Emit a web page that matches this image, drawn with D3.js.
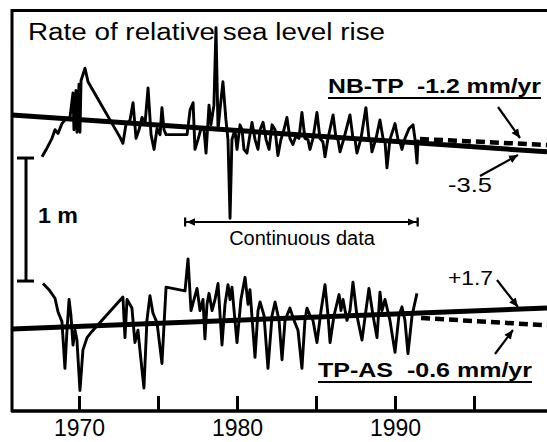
<!DOCTYPE html>
<html><head><meta charset="utf-8">
<script src="https://cdn.jsdelivr.net/npm/d3@7"></script>
<style>
body{margin:0;background:#fff}
svg{display:block}
text{font-family:"Liberation Sans",Arial,Helvetica,sans-serif;fill:#000}
</style>
</head><body>
<svg id="c" width="547" height="442"></svg>
<script>
// ---- data (years, metres) ----
const nbtpYears = [1967.66,1967.97,1968.29,1968.48,1968.67,1968.92,1969.18,1969.43,1969.62,1969.68,1969.81,1969.87,1970.00,1970.06,1970.13,1970.38,1970.57,1972.59,1972.78,1972.97,1973.23,1973.42,1973.61,1973.80,1973.99,1974.18,1974.37,1974.56,1974.75,1974.94,1975.13,1975.25,1975.38,1975.51,1976.84,1977.03,1977.22,1977.34,1977.53,1977.72,1977.91,1978.04,1978.23,1978.35,1978.54,1978.67,1978.80,1978.92,1979.11,1979.30,1979.43,1979.56,1979.68,1979.87,1980.00,1980.19,1980.32,1980.44,1980.63,1980.82,1980.95,1981.14,1981.33,1981.46,1981.65,1981.84,1982.03,1982.22,1982.41,1982.59,1982.78,1982.97,1983.16,1983.35,1983.54,1983.73,1983.92,1984.11,1984.30,1984.49,1984.62,1984.81,1985.06,1985.25,1985.44,1985.57,1985.76,1986.08,1986.27,1986.39,1986.52,1986.77,1987.15,1987.34,1987.47,1987.59,1987.85,1988.16,1988.35,1988.48,1988.54,1988.80,1989.05,1989.24,1989.37,1989.49,1989.68,1990.00,1990.19,1990.32,1990.44,1990.63,1990.89,1991.14,1991.27,1991.39,1991.46];
const nbtpValues = [-0.35,-0.28,-0.20,-0.13,-0.16,-0.08,-0.04,-0.03,0.17,-0.13,0.19,-0.15,0.24,-0.15,0.27,0.37,0.26,-0.19,-0.24,-0.09,-0.05,0.09,-0.20,-0.13,-0.03,-0.08,0.21,-0.17,-0.29,-0.12,-0.17,0.05,-0.13,-0.17,-0.17,0.03,0.09,-0.29,-0.21,-0.12,-0.13,-0.32,0.07,-0.09,0.07,0.70,-0.13,0.03,0.26,-0.05,-0.21,-0.85,-0.21,-0.13,-0.29,-0.09,-0.13,-0.29,-0.32,-0.17,-0.07,-0.21,-0.29,-0.13,-0.07,-0.21,-0.29,-0.09,-0.13,-0.34,-0.21,-0.13,-0.03,-0.20,-0.25,-0.18,-0.20,0.01,-0.20,-0.21,-0.29,-0.20,0.01,-0.20,-0.23,-0.35,-0.20,-0.01,-0.20,-0.21,-0.31,-0.20,-0.01,-0.20,-0.21,-0.32,-0.20,0.05,-0.20,-0.23,-0.31,-0.20,-0.05,-0.20,-0.23,-0.44,-0.21,-0.08,-0.21,-0.23,-0.29,-0.20,-0.12,-0.09,-0.21,-0.40,-0.21];

const tpasYears = [1967.72,1968.10,1968.48,1968.67,1968.92,1969.11,1969.24,1969.37,1969.49,1969.62,1969.75,1969.87,1970.06,1970.25,1970.51,1970.82,1972.78,1972.91,1973.04,1973.35,1973.54,1973.73,1973.92,1974.11,1974.30,1974.49,1974.68,1974.94,1975.25,1975.51,1976.71,1976.90,1977.09,1977.28,1977.47,1977.66,1977.85,1977.97,1978.10,1978.23,1978.42,1978.61,1978.80,1979.05,1979.24,1979.43,1979.56,1979.68,1980.00,1980.25,1980.51,1980.70,1980.82,1981.14,1981.33,1981.46,1981.71,1981.96,1982.22,1982.41,1982.66,1982.85,1983.04,1983.16,1983.35,1983.61,1983.86,1984.11,1984.30,1984.43,1984.62,1984.81,1985.06,1985.32,1985.57,1985.76,1985.89,1986.14,1986.46,1986.58,1986.71,1986.96,1987.15,1987.34,1987.59,1987.91,1988.16,1988.35,1988.61,1988.86,1989.05,1989.18,1989.37,1989.68,1990.00,1990.25,1990.44,1990.63,1990.82,1991.08,1991.39];
const tpasValues = [0.37,0.32,0.25,0.14,0.06,-0.32,-0.01,0.24,0.11,-0.13,-0.01,-0.09,-0.50,-0.17,-0.07,-0.02,0.26,-0.07,0.24,0.17,-0.11,-0.01,-0.25,-0.48,0.07,0.27,0.13,0.05,-0.28,0.34,0.31,0.57,0.15,0.24,0.33,0.15,0.24,-0.08,0.20,0.29,0.15,0.24,0.37,-0.13,0.20,0.36,0.24,0.34,-0.11,0.24,0.42,0.20,0.32,-0.23,0.15,0.22,0.11,-0.32,0.11,0.22,0.07,-0.25,0.07,0.11,0.17,0.07,-0.01,-0.32,0.07,0.17,0.11,0.07,-0.11,0.15,0.36,0.11,-0.11,0.11,0.28,0.15,0.24,0.07,0.15,0.38,0.11,-0.09,0.15,0.33,0.11,-0.07,0.30,0.15,0.24,0.07,-0.19,0.11,0.18,0.07,-0.20,0.11,0.29];

// trend lines: [startYear, endYear], [startValue, endValue]
const trendYears = [1965.76, 1999.62];
const nbtpTrendValues = [-0.01, -0.31];
const tpasTrendValues = [0.00, 0.17];
const nbtpDashYears = [1991.58, 1999.62];
const nbtpDashValues = [-0.205, -0.254];
const tpasDashYears = [1991.65, 1999.62];
const tpasDashValues = [0.09, 0.03];

const seriesOffsets = [1.75, 0];          // vertical stacking offset (m)
const tickYears = [1970, 1975, 1980, 1985, 1990, 1995];
const tickLabels = ["1970", "", "1980", "", "1990", ""];
const continuousSpan = [1976.7, 1991.45];
const scaleBarValues = [0.39, 1.39];      // 1 m scale bar

// ---- drawing ----
const svg = d3.select("#c");
svg.append("rect").attr("width",547).attr("height",442).attr("fill","#fff");

const x = d3.scaleLinear().domain([1970, 1990]).range([79, 395]);
const y = d3.scaleLinear().domain([0, 1]).range([329, 206]);

const defs = svg.append("defs");
defs.append("marker").attr("id","ah").attr("viewBox","0 0 10 10")
  .attr("refX",10).attr("refY",5).attr("markerUnits","userSpaceOnUse")
  .attr("markerWidth",9).attr("markerHeight",9).attr("orient","auto-start-reverse")
  .append("path").attr("d","M0,0.5L10,5L0,9.5Z").attr("fill","#000");
defs.append("marker").attr("id","bh").attr("viewBox","0 0 12 12")
  .attr("refX",11).attr("refY",6).attr("markerUnits","userSpaceOnUse")
  .attr("markerWidth",11).attr("markerHeight",11).attr("orient","auto-start-reverse")
  .append("path").attr("d","M0,2L9,6L0,10Z M9.5,1H12V11H9.5Z").attr("fill","#000");

// frame
svg.append("line").attr("x1",12).attr("x2",12).attr("y1",9).attr("y2",412)
  .attr("stroke","#000").attr("stroke-width",3);
svg.append("line").attr("x1",11).attr("x2",547).attr("y1",10.5).attr("y2",10.5)
  .attr("stroke","#000").attr("stroke-width",3);

// axis
const axis = d3.axisBottom(x).tickValues(tickYears)
  .tickSizeInner(-15).tickSizeOuter(0).tickPadding(9)
  .tickFormat((d,i) => tickLabels[i]);
const ag = svg.append("g").attr("transform","translate(0,411)").call(axis);
ag.select(".domain").remove();
ag.selectAll(".tick line").attr("stroke","#000").attr("stroke-width",3);
ag.selectAll(".tick text").attr("font-size",23).attr("fill","#000")
  .style("font-family","'Liberation Sans',Arial,sans-serif");
svg.append("line").attr("x1",11).attr("x2",547).attr("y1",411).attr("y2",411)
  .attr("stroke","#000").attr("stroke-width",3.5);

// trend lines
function trend(years, vals, off, dashed){
  const pts = years.map((yr,i)=>[x(yr), y(vals[i]+off)]);
  svg.append("path").attr("d", d3.line()(pts)).attr("fill","none")
    .attr("stroke","#000").attr("stroke-width", dashed?4.5:5)
    .attr("stroke-dasharray", dashed?"9,5":null);
}
trend(trendYears, nbtpTrendValues, seriesOffsets[0], false);
trend(trendYears, tpasTrendValues, seriesOffsets[1], false);
trend(nbtpDashYears, nbtpDashValues, seriesOffsets[0], true);
trend(tpasDashYears, tpasDashValues, seriesOffsets[1], true);

// series
const line = d3.line().x(d=>x(d[0])).y(d=>y(d[1]));
function series(years, vals, off){
  svg.append("path").attr("d", line(years.map((yr,i)=>[yr, vals[i]+off])))
    .attr("fill","none").attr("stroke","#000").attr("stroke-width",2.9)
    .attr("stroke-linejoin","round");
}
series(nbtpYears, nbtpValues, seriesOffsets[0]);
series(tpasYears, tpasValues, seriesOffsets[1]);

// title
svg.append("text").attr("x",28).attr("y",40).attr("font-size",23)
  .attr("textLength",357).attr("lengthAdjust","spacingAndGlyphs")
  .text("Rate of relative sea level rise");

// scale bar
const sb0 = y(scaleBarValues[0]), sb1 = y(scaleBarValues[1]);
svg.append("line").attr("x1",26).attr("x2",26).attr("y1",sb1).attr("y2",sb0).attr("stroke","#000").attr("stroke-width",3);
svg.append("line").attr("x1",17).attr("x2",34).attr("y1",sb1).attr("y2",sb1).attr("stroke","#000").attr("stroke-width",3);
svg.append("line").attr("x1",17).attr("x2",34).attr("y1",sb0).attr("y2",sb0).attr("stroke","#000").attr("stroke-width",3);
svg.append("text").attr("x",38).attr("y",223).attr("font-size",22).attr("font-weight","bold")
  .attr("textLength",40).attr("lengthAdjust","spacingAndGlyphs").text("1 m");

// continuous data bracket
svg.append("line").attr("x1",x(continuousSpan[0])).attr("x2",x(continuousSpan[1]))
  .attr("y1",222).attr("y2",222).attr("stroke","#000").attr("stroke-width",2)
  .attr("marker-start","url(#bh)").attr("marker-end","url(#bh)");
svg.append("text").attr("x",302).attr("y",245).attr("font-size",20).attr("text-anchor","middle")
  .text("Continuous data");

// labels
function ulabel(txt, x0, x1, yb){
  svg.append("text").attr("x",x0).attr("y",yb).attr("font-size",21).attr("font-weight","bold")
    .attr("textLength",x1-x0).attr("lengthAdjust","spacingAndGlyphs")
    .style("white-space","pre").text(txt);
  svg.append("line").attr("x1",x0).attr("x2",x1).attr("y1",yb+5).attr("y2",yb+5)
    .attr("stroke","#000").attr("stroke-width",2.2);
}
ulabel("NB-TP  -1.2 mm/yr", 328, 541, 93);
ulabel("TP-AS  -0.6 mm/yr", 318, 532, 377);

function txt(s, x0, yb, w){
  svg.append("text").attr("x",x0).attr("y",yb).attr("font-size",21)
    .attr("textLength",w).attr("lengthAdjust","spacingAndGlyphs").text(s);
}
txt("-3.5", 448, 192, 44);
txt("+1.7", 448, 285, 45);

function arrow(x1,y1,x2,y2){
  svg.append("line").attr("x1",x1).attr("y1",y1).attr("x2",x2).attr("y2",y2)
    .attr("stroke","#000").attr("stroke-width",2.2).attr("marker-end","url(#ah)");
}
arrow(498,107,520,138);
arrow(480,176,518,155);
arrow(497,280,518,307);
arrow(495,354,513,330);
</script>
</body></html>
